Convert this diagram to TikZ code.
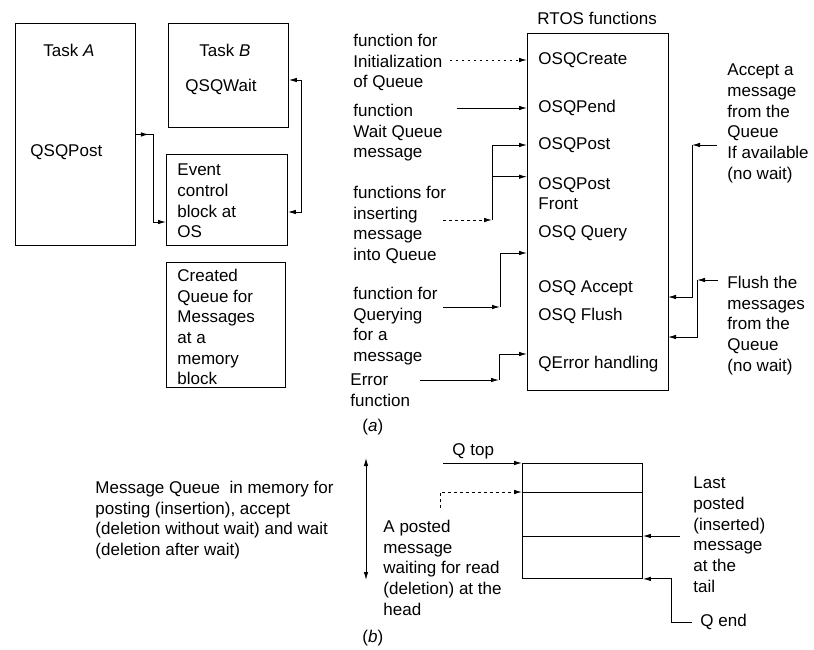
\documentclass[tikz,border=0pt]{standalone}
\usepackage{fontspec}
\setmainfont{Liberation Sans}
\usetikzlibrary{arrows.meta}

\begin{document}
\begin{tikzpicture}[x=1pt,y=-1pt,line width=0.9pt]
  % page frame in pixel units, y grows downwards
  \useasboundingbox (0,0) rectangle (814,650);
  \tikzset{box/.style={draw,anchor=north west,inner sep=0pt},
           lbl/.style={anchor=north west,inner sep=0pt,align=left,font=\fontsize{17}{20.7}\selectfont},
           item/.style={anchor=west,inner sep=0pt,font=\fontsize{17}{20.7}\selectfont},
           arr/.style={-{Latex[length=8pt,width=4.5pt]}},
           arrboth/.style={{Latex[length=8pt,width=4.5pt]}-{Latex[length=8pt,width=4.5pt]}}}

  % (a) tasks and OS blocks
  \node[box,minimum width=120pt,minimum height=222pt] (taskA) at (15,23) {};
  \node[box,minimum width=120pt,minimum height=104pt] (taskB) at (168,23) {};
  \node[box,minimum width=121pt,minimum height=91pt] (event) at (166,154) {};
  \node[box,minimum width=119pt,minimum height=125pt] (created) at (166,262) {};
  \node[item] (taskAlbl) at (43,50) {Task \textit{A}};
  \node[item] (qsqpost) at (30,152) {QSQPost};
  \node[item] (taskBlbl) at (199,50) {Task \textit{B}};
  \node[item] (qsqwait) at (185,87) {QSQWait};
  \node[lbl] (eventlbl) at (177,163.7) {Event\\control\\block at\\OS};
  \node[lbl] (createdlbl) at (177,268.7) {Created\\Queue for\\Messages\\at a\\memory\\block};

  \coordinate (evin) at (166,222);
  \coordinate (bin) at (288,80);
  \coordinate (evout) at (287,212);
  \draw[arr] (taskA.east) -- ++(13,0);
  \draw[arr] (taskA.east) -- ++(18,0) |- (evin);
  \draw[arrboth] (taskB.east |- bin) -- ++(13,0) |- (event.east |- evout);

  % RTOS function box
  \node[box,minimum width=141pt,minimum height=357pt] (rtos) at (527,33) {};
  \node[item] (rtoslbl) at (537,18) {RTOS functions};
  \node[item] (create) at (538,60) {OSQCreate};
  \node[item] (pend) at (538,108) {OSQPend};
  \node[item] (post) at (538,145) {OSQPost};
  \node[lbl] (postfront) at (538,176.7) {OSQPost\\Front};
  \node[item] (query) at (538,233) {OSQ Query};
  \node[item] (accept) at (538,288) {OSQ Accept};
  \node[item] (flush) at (538,316) {OSQ Flush};
  \node[item] (qerror) at (538,364) {QError handling};

  \node[lbl] (initlbl) at (353,33.7) {function for\\Initialization\\of Queue};
  \node[lbl] (waitlbl) at (353,103.7) {function\\Wait Queue\\message};
  \node[lbl] (inslbl) at (353,185.7) {functions for\\inserting\\message\\into Queue};
  \node[lbl] (qrylbl) at (353,286.7) {function for\\Querying\\for a\\message};
  \node[lbl] (errlbl) at (350,373.7) {Error\\function};
  \node[item] (capa) at (362,427) {(\textit{a})};
  \node[lbl] (acclbl) at (727,63.7) {Accept a\\message\\from the\\Queue\\If available\\(no wait)};
  \node[lbl] (flulbl) at (727,275.7) {Flush the\\messages\\from the\\Queue\\(no wait)};

  \coordinate (initsrc) at (450,60);
  \coordinate (waitsrc) at (457,108);
  \coordinate (inssrc) at (443,220);
  \coordinate (insj) at (492,220);
  \coordinate (qrysrc) at (443,307);
  \coordinate (qryj) at (500,307);
  \coordinate (qryin) at (527,253);
  \coordinate (errsrc) at (420,380);
  \coordinate (errj) at (499,380);
  \coordinate (errin) at (527,354);
  \coordinate (accsrc) at (717,145);
  \coordinate (accj) at (692,145);
  \coordinate (accin) at (668,297);
  \coordinate (flusrc) at (718,280);
  \coordinate (fluj) at (697,280);
  \coordinate (fluin) at (668,337);

  \draw[arr,dash pattern=on 2pt off 4pt] (initsrc) -- (rtos.west |- create);
  \draw[arr] (waitsrc) -- (rtos.west |- pend);
  \draw[arr,dashed] (inssrc) -- (insj);
  \draw[arr] (insj) |- (rtos.west |- post);
  \draw[arr] (insj) |- (rtos.west |- postfront.north);
  \draw[arr] (qrysrc) -- (qryj);
  \draw[arr] (qryj) |- (qryin);
  \draw[arr] (errsrc) -- (errj);
  \draw[arr] (errj) |- (errin);
  \draw[arr] (accsrc) -- (accj);
  \draw[arr] (accj) |- (accin);
  \draw[arr] (flusrc) -- (fluj);
  \draw[arr] (fluj) |- (fluin);

  % (b) queue in memory
  \node[box,minimum width=120pt,minimum height=29pt] (slot1) at (522,463) {};
  \node[box,minimum width=120pt,minimum height=44pt] (slot2) at (522,492) {};
  \node[box,minimum width=120pt,minimum height=42pt] (slot3) at (522,536) {};
  \node[lbl] (memlbl) at (95,480.7) {Message Queue~ in memory for\\posting (insertion), accept\\(deletion without wait) and wait\\(deletion after wait)};
  \node[item] (qtoplbl) at (452,451) {Q top};
  \node[lbl] (postedlbl) at (383,519.7) {A posted\\message\\waiting for read\\(deletion) at the\\head};
  \node[lbl] (lastlbl) at (693,476.7) {Last\\posted\\(inserted)\\message\\at the\\tail};
  \node[item] (qendlbl) at (700,622) {Q end};
  \node[item] (capb) at (362,638) {(\textit{b})};

  \coordinate (memtop) at (366,458);
  \coordinate (membot) at (366,580);
  \coordinate (qtopsrc) at (443,463);
  \coordinate (postsrc) at (440,508);
  \coordinate (lastsrc) at (680,536);
  \coordinate (qendsrc) at (692,622);
  \draw[arrboth] (memtop) -- (membot);
  \draw[arr] (qtopsrc) -- (slot1.north west);
  \draw[arr,dashed] (postsrc) |- (slot2.north west);
  \draw[arr] (lastsrc) -- (slot3.north east);
  \draw[arr] (qendsrc) -- ++(-21,0) |- (slot3.south east);
\end{tikzpicture}
\end{document}
